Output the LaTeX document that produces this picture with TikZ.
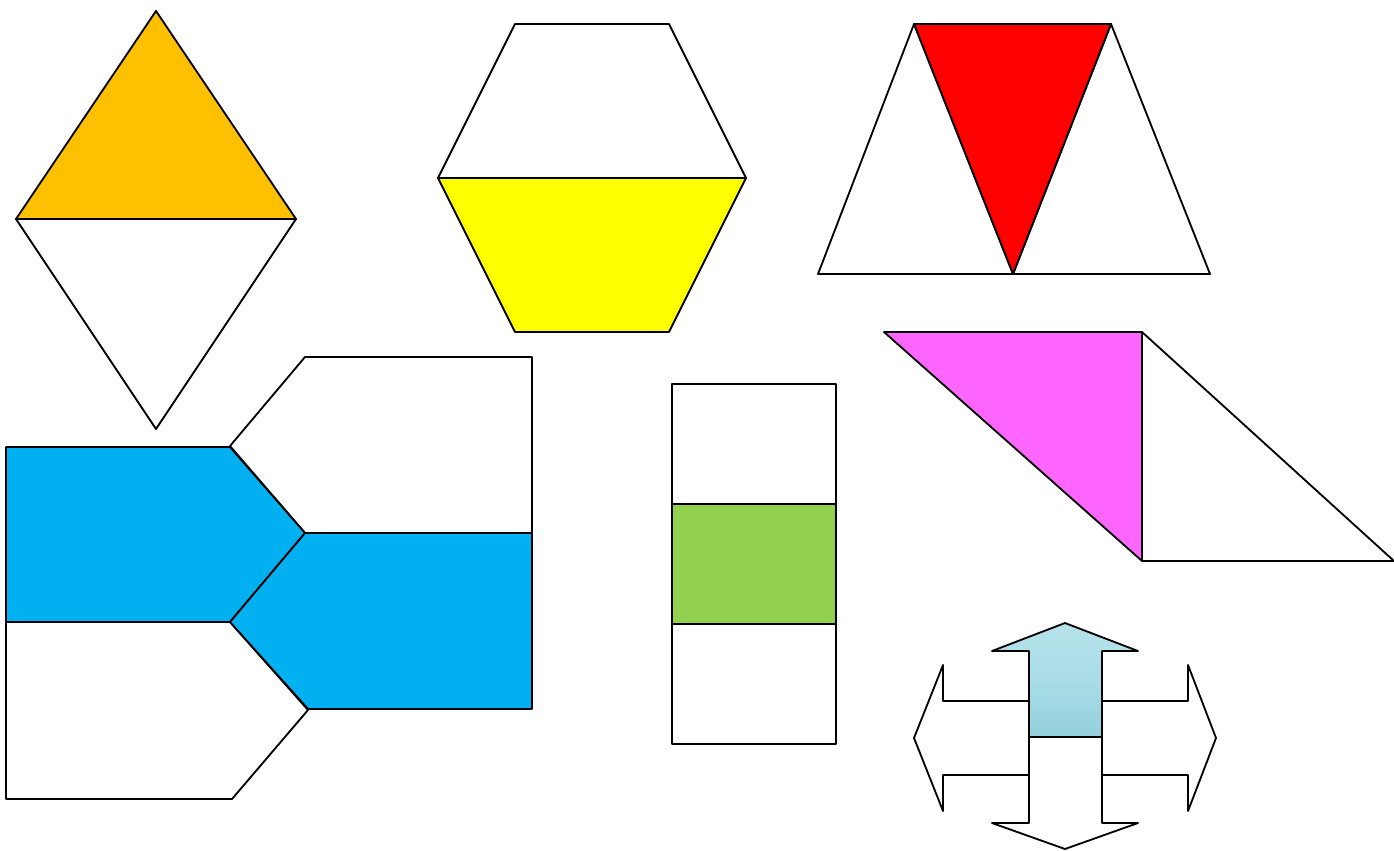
\documentclass[tikz,border=0pt]{standalone}
\usepackage{tikz}
\usetikzlibrary{calc}
\definecolor{gold}{HTML}{FFC000}
\definecolor{lemon}{HTML}{FFFF00}
\definecolor{scarlet}{HTML}{FF0000}
\definecolor{orchid}{HTML}{FF66FF}
\definecolor{sky}{HTML}{00B0F0}
\definecolor{leaf}{HTML}{92D050}
\definecolor{ice}{HTML}{A9DDE7}
\definecolor{icedark}{HTML}{93D0DC}
\tikzset{
  piece/.style={draw=black,line width=2.6pt,line join=round,fill=white},
  goldpiece/.style={piece,fill=gold},
  lemonpiece/.style={piece,fill=lemon},
  redpiece/.style={piece,fill=scarlet},
  pinkpiece/.style={piece,fill=orchid},
  bluepiece/.style={piece,fill=sky},
  greenpiece/.style={piece,fill=leaf},
  icepiece/.style={piece,top color=ice!85!white,bottom color=icedark,middle color=ice}
}
\begin{document}
\begin{tikzpicture}[x=0.05cm,y=-0.05cm]
  \useasboundingbox (0,0) rectangle (1394,850);

  % rhombus: two triangles
  \draw[goldpiece] (156,11) -- (296,219) -- (16,219) -- cycle;
  \draw[piece] (16,219) -- (296,219) -- (156,429) -- cycle;

  % hexagon: two trapezoids
  \draw[piece] (515,24) -- (669,24) -- (746,178) -- (438,178) -- cycle;
  \draw[lemonpiece] (438,178) -- (746,178) -- (669,332) -- (515,332) -- cycle;

  % trapezoid: three triangles
  \draw[piece] (818,274) -- (914,24) -- (1013,274) -- cycle;
  \draw[piece] (1013,274) -- (1111,24) -- (1210,274) -- cycle;
  \draw[redpiece] (914,24) -- (1111,24) -- (1013,274) -- cycle;

  % parallelogram: two right triangles
  \draw[pinkpiece] (884,332) -- (1142,332) -- (1142,561) -- cycle;
  \draw[piece] (1142,332) -- (1394,561) -- (1142,561) -- cycle;

  % four pentagons
  \draw[piece] (230,446) -- (305,357) -- (532,357) -- (532,533) -- (305,533) -- cycle;
  \draw[piece] (6,622) -- (230,622) -- (308,710) -- (232,799) -- (6,799) -- cycle;
  \draw[bluepiece] (6,447) -- (230,447) -- (305,533) -- (230,622) -- (6,622) -- cycle;
  \draw[bluepiece] (305,533) -- (532,533) -- (532,709) -- (308,709) -- (230,622) -- cycle;

  % rectangle: three parts
  \draw[piece] (672,384) rectangle (836,504);
  \draw[greenpiece] (672,504) rectangle (836,624);
  \draw[piece] (672,624) rectangle (836,744);

  % four arrows
  \draw[piece] (943,665) -- (943,701) -- (1029,701) -- (1029,775) -- (943,775)
    -- (943,811) -- (914,738) -- cycle;
  \draw[piece] (1188,665) -- (1188,701) -- (1102,701) -- (1102,775) -- (1188,775)
    -- (1188,811) -- (1216,738) -- cycle;
  \draw[piece] (1029,737) -- (1102,737) -- (1102,823) -- (1138,823) -- (1065,849)
    -- (992,823) -- (1029,823) -- cycle;
  \draw[icepiece] (1065,623) -- (1138,651) -- (1102,651) -- (1102,737)
    -- (1029,737) -- (1029,651) -- (992,651) -- cycle;
\end{tikzpicture}
\end{document}
